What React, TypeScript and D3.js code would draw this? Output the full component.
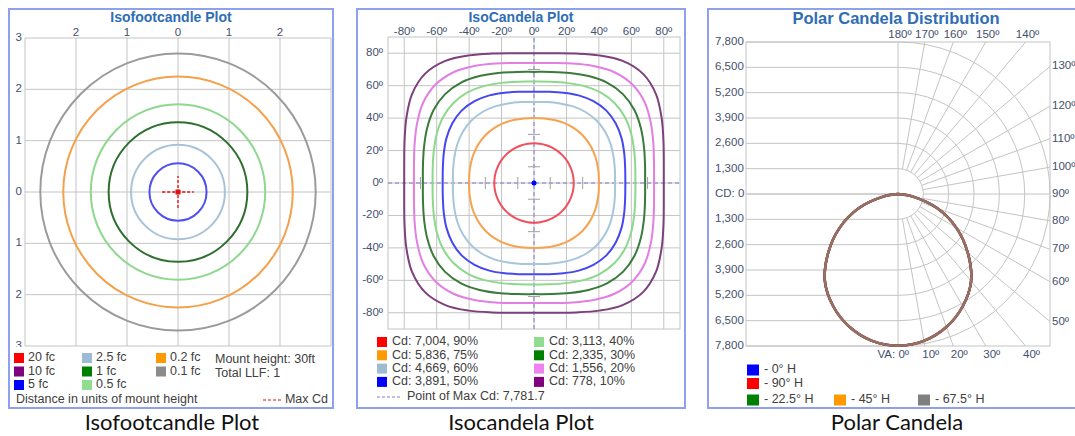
import { useEffect, useRef } from 'react';
import * as d3 from 'd3';

const W = 1075;
const H = 436;

// Isofootcandle plot
const fcTicks = [-3, -2, -1, 0, 1, 2, 3];
const fcContourRadii = [0.56, 0.92, 1.36, 1.71, 2.25, 2.7];
const fcContourColors = ['#5050ee', '#a8c3d7', '#2e6e2e', '#8ed88e', '#f5a04c', '#9b9b9b'];
const fcLegendLabels = ['20 fc', '10 fc', '5 fc', '2.5 fc', '1 fc', '0.5 fc', '0.2 fc', '0.1 fc'];
const fcLegendColors = ['#ff0000', '#800080', '#0000ff', '#9dbbd2', '#008000', '#90dc90', '#ff9900', '#8c8c8c'];
const fcNotes = ['Mount height: 30ft', 'Total LLF: 1'];

// IsoCandela plot
const icTicks = [-80, -60, -40, -20, 0, 20, 40, 60, 80];
const icMinorTicks = [-70, -50, -30, -10, 10, 30, 50, 70];
const icSampleAngles = [0, 9, 18, 27, 36, 45];
// contour radius (deg) read every 9 deg from the axes, same in every octant
const icContours = [
  [24.5, 24.5, 24.5, 24.5, 24.5, 24.5],
  [40, 40.3, 40.8, 41.4, 41.8, 42],
  [50, 50.5, 51.6, 53, 54.1, 54.5],
  [56.3, 56.9, 58.5, 60.6, 62.3, 63.1],
  [62.5, 63.2, 64.9, 67.2, 69.2, 70],
  [68.5, 69.3, 71.3, 74, 76.5, 77.5],
  [74, 74.9, 77.4, 80.9, 84.4, 85.8],
  [80, 81, 83.9, 88.3, 93, 95.1],
];
const icLabels = [
  'Cd: 7,004, 90%', 'Cd: 5,836, 75%', 'Cd: 4,669, 60%', 'Cd: 3,891, 50%',
  'Cd: 3,113, 40%', 'Cd: 2,335, 30%', 'Cd: 1,556, 20%', 'Cd: 778, 10%',
];
const icLineColors = ['#f0505c', '#f6a24e', '#a6c6da', '#4646f2', '#8cd88c', '#3a7a3a', '#e27fe2', '#7d3f7d'];
const icLegendColors = ['#ff0000', '#ff9900', '#9dbbd2', '#0000ff', '#90dc90', '#008000', '#ee82ee', '#800080'];
const icMaxLabel = 'Point of Max Cd: 7,781.7';

// Polar candela distribution
const pcRadialTicks = [1300, 2600, 3900, 5200, 6500, 7800];
const pcAngleTicks = [0, 10, 20, 30, 40, 50, 60, 70, 80, 90, 100, 110, 120, 130, 140, 150, 160, 170, 180];
const pcVA = [0, 10, 20, 30, 40, 50, 60, 70, 80, 90];
const pcCandela = [7782, 7650, 7260, 6650, 5836, 4669, 3450, 2150, 778, 0];
const pcSeries = ['- 0° H', '- 90° H', '- 22.5° H', '- 45° H', '- 67.5° H'];
const pcColors = ['#0000ff', '#ff0000', '#008000', '#ff9900', '#808080'];

const UI = "'Liberation Sans', Arial, sans-serif";
const CAP = "Lato, 'Open Sans', sans-serif";
const TITLE = '#2f6db5';
const TICK = '#44506e';
const TXT = '#404040';
const GRID = '#c4c4c4';
const BORDER = '#8fa1ea';

export default function App() {
  const svgRef = useRef<SVGSVGElement>(null);

  useEffect(() => {
    if (!svgRef.current) return;
    const svg = d3.select(svgRef.current);
    svg.selectAll('*').remove();
    svg.append('rect').attr('width', W).attr('height', H).attr('fill', '#fff');

    const panel = (x: number, w: number, title: string, tx: number, ty: number, size: number) => {
      const g = svg.append('g');
      g.append('rect')
        .attr('x', x).attr('y', 9).attr('width', w).attr('height', 399)
        .attr('fill', '#fff').attr('stroke', BORDER).attr('stroke-width', 2);
      g.append('text')
        .attr('x', tx).attr('y', ty)
        .attr('text-anchor', 'middle')
        .style('font-family', UI).style('font-size', `${size}px`).style('font-weight', 'bold')
        .style('fill', TITLE)
        .text(title);
      return g;
    };

    // ---------- Isofootcandle ----------
    const g1 = panel(9, 324, 'Isofootcandle Plot', 171, 22, 14);
    const fx = d3.scaleLinear().domain([-3, 3]).range([25, 331]);
    const fy = d3.scaleLinear().domain([-3, 3]).range([346, 38]);

    g1.selectAll('.gx').data(fcTicks).enter().append('line')
      .attr('x1', (d) => fx(d)).attr('x2', (d) => fx(d))
      .attr('y1', fy(3)).attr('y2', fy(-3))
      .attr('stroke', GRID);
    g1.selectAll('.gy').data(fcTicks).enter().append('line')
      .attr('y1', (d) => fy(d)).attr('y2', (d) => fy(d))
      .attr('x1', fx(-3)).attr('x2', fx(3))
      .attr('stroke', GRID);

    g1.selectAll('.tx').data(fcTicks.filter((t) => Math.abs(t) < 3)).enter().append('text')
      .attr('x', (d) => fx(d)).attr('y', 36)
      .attr('text-anchor', 'middle')
      .style('font-family', UI).style('font-size', '11.5px').style('fill', TICK)
      .text((d) => Math.abs(d));
    g1.selectAll('.ty').data(fcTicks).enter().append('text')
      .attr('x', 22).attr('y', (d) => fy(d))
      .attr('text-anchor', 'end').attr('dominant-baseline', 'middle')
      .style('font-family', UI).style('font-size', '11.5px').style('fill', TICK)
      .text((d) => Math.abs(d));

    g1.selectAll('.iso').data(fcContourRadii).enter().append('ellipse')
      .attr('cx', fx(0)).attr('cy', fy(0))
      .attr('rx', (d) => fx(d) - fx(0)).attr('ry', (d) => fy(0) - fy(d))
      .attr('fill', 'none')
      .attr('stroke', (_, i) => fcContourColors[i])
      .attr('stroke-width', 2);

    // max cd marker
    g1.append('line').attr('x1', fx(-0.31)).attr('x2', fx(0.31)).attr('y1', fy(0)).attr('y2', fy(0))
      .attr('stroke', '#e01010').attr('stroke-width', 1.3).attr('stroke-dasharray', '3,2');
    g1.append('line').attr('y1', fy(-0.31)).attr('y2', fy(0.31)).attr('x1', fx(0)).attr('x2', fx(0))
      .attr('stroke', '#e01010').attr('stroke-width', 1.3).attr('stroke-dasharray', '3,2');
    g1.append('rect').attr('x', fx(0) - 2.5).attr('y', fy(0) - 2.5).attr('width', 5).attr('height', 5)
      .attr('fill', '#e01010');

    // cover lower half of the bottom "3"
    g1.append('rect').attr('x', 11).attr('y', 347).attr('width', 320).attr('height', 60).attr('fill', '#fff');

    const fcCols = [14, 82, 156];
    const fcRows = [358, 371.5, 385];
    fcLegendLabels.forEach((lab, i) => {
      const c = Math.floor(i / 3);
      const r = i % 3;
      g1.append('rect').attr('x', fcCols[c]).attr('y', fcRows[r] - 5).attr('width', 10).attr('height', 10)
        .attr('fill', fcLegendColors[i]);
      g1.append('text').attr('x', fcCols[c] + 14).attr('y', fcRows[r])
        .attr('dominant-baseline', 'middle')
        .style('font-family', UI).style('font-size', '12.5px').style('fill', TXT)
        .text(lab);
    });
    fcNotes.forEach((t, i) => {
      g1.append('text').attr('x', 215).attr('y', 360 + i * 13.5)
        .attr('dominant-baseline', 'middle')
        .style('font-family', UI).style('font-size', '12.5px').style('fill', TXT)
        .text(t);
    });
    g1.append('text').attr('x', 16).attr('y', 400)
      .attr('dominant-baseline', 'middle')
      .style('font-family', UI).style('font-size', '12.5px').style('fill', TXT)
      .text('Distance in units of mount height');
    g1.append('line').attr('x1', 263).attr('x2', 281).attr('y1', 400).attr('y2', 400)
      .attr('stroke', '#e01010').attr('stroke-dasharray', '3,2');
    g1.append('text').attr('x', 328).attr('y', 400)
      .attr('text-anchor', 'end').attr('dominant-baseline', 'middle')
      .style('font-family', UI).style('font-size', '12.5px').style('fill', TXT)
      .text('Max Cd');

    // ---------- IsoCandela ----------
    const g2 = panel(357, 328, 'IsoCandela Plot', 521, 22, 14);
    const ix = d3.scaleLinear().domain([-90, 90]).range([388, 680]);
    const iy = d3.scaleLinear().domain([-90, 90]).range([329, 37]);

    g2.append('rect').attr('x', ix(-90)).attr('y', iy(90))
      .attr('width', ix(90) - ix(-90)).attr('height', iy(-90) - iy(90))
      .attr('fill', 'none').attr('stroke', GRID);
    g2.selectAll('.gx').data(icTicks).enter().append('line')
      .attr('x1', (d) => ix(d)).attr('x2', (d) => ix(d))
      .attr('y1', iy(90)).attr('y2', iy(-90)).attr('stroke', GRID);
    g2.selectAll('.gy').data(icTicks).enter().append('line')
      .attr('y1', (d) => iy(d)).attr('y2', (d) => iy(d))
      .attr('x1', ix(-90)).attr('x2', ix(90)).attr('stroke', GRID);

    g2.selectAll('.tx').data(icTicks).enter().append('text')
      .attr('x', (d) => ix(d)).attr('y', 35)
      .attr('text-anchor', 'middle')
      .style('font-family', UI).style('font-size', '11.5px').style('fill', TICK)
      .text((d) => `${d}º`);
    g2.selectAll('.ty').data(icTicks).enter().append('text')
      .attr('x', 383).attr('y', (d) => iy(d))
      .attr('text-anchor', 'end').attr('dominant-baseline', 'middle')
      .style('font-family', UI).style('font-size', '11.5px').style('fill', TICK)
      .text((d) => `${d}º`);

    // axes through max cd
    g2.append('line').attr('x1', ix(-90)).attr('x2', ix(90)).attr('y1', iy(0)).attr('y2', iy(0))
      .attr('stroke', '#7b7bd8').attr('stroke-dasharray', '4,3');
    g2.append('line').attr('y1', iy(-90)).attr('y2', iy(90)).attr('x1', ix(0)).attr('x2', ix(0))
      .attr('stroke', '#7b7bd8').attr('stroke-dasharray', '4,3');
    g2.selectAll('.mtx').data(icMinorTicks).enter().append('line')
      .attr('x1', (d) => ix(d)).attr('x2', (d) => ix(d))
      .attr('y1', iy(0) - 6).attr('y2', iy(0) + 6).attr('stroke', '#a0a0a0');
    g2.selectAll('.mty').data(icMinorTicks).enter().append('line')
      .attr('y1', (d) => iy(d)).attr('y2', (d) => iy(d))
      .attr('x1', ix(0) - 6).attr('x2', ix(0) + 6).attr('stroke', '#a0a0a0');

    const octant = (shape: number[], phi: number) => {
      const m = phi % 90;
      const a = m <= 45 ? m : 90 - m;
      return shape[icSampleAngles.indexOf(a)];
    };
    const phis = d3.range(0, 360, 9);
    const contourLine = d3.line<[number, number]>()
      .x((d) => ix(d[0])).y((d) => iy(d[1]))
      .curve(d3.curveCatmullRomClosed.alpha(0.5));
    icContours.forEach((shape, i) => {
      const pts = phis.map((p) => {
        const r = octant(shape, p);
        const t = (p * Math.PI) / 180;
        return [r * Math.cos(t), r * Math.sin(t)] as [number, number];
      });
      g2.append('path').attr('d', contourLine(pts))
        .attr('fill', 'none').attr('stroke', icLineColors[i]).attr('stroke-width', 2);
    });
    g2.append('circle').attr('cx', ix(0)).attr('cy', iy(0)).attr('r', 2.5).attr('fill', '#0000ff');

    const icCols = [377, 534];
    icLabels.forEach((lab, i) => {
      const c = Math.floor(i / 4);
      const y = 342 + (i % 4) * 13.3;
      g2.append('rect').attr('x', icCols[c]).attr('y', y - 5).attr('width', 10).attr('height', 10)
        .attr('fill', icLegendColors[i]);
      g2.append('text').attr('x', icCols[c] + 15).attr('y', y)
        .attr('dominant-baseline', 'middle')
        .style('font-family', UI).style('font-size', '12.5px').style('fill', TXT)
        .text(lab);
    });
    g2.append('line').attr('x1', 377).attr('x2', 402).attr('y1', 397).attr('y2', 397)
      .attr('stroke', '#8080e0').attr('stroke-dasharray', '3,2');
    g2.append('text').attr('x', 407).attr('y', 397)
      .attr('dominant-baseline', 'middle')
      .style('font-family', UI).style('font-size', '12.5px').style('fill', TXT)
      .text(icMaxLabel);

    // ---------- Polar ----------
    const g3 = panel(708, 380, 'Polar Candela Distribution', 896, 24, 16.5);
    const cx = 898;
    const cy = 194;
    const R = 152;
    const rs = d3.scaleLinear().domain([0, 7800]).range([0, R]);

    g3.append('rect').attr('x', cx - R).attr('y', cy - R).attr('width', 2 * R).attr('height', 2 * R)
      .attr('fill', 'none').attr('stroke', GRID);
    [0, ...pcRadialTicks].forEach((v) => {
      [-1, 1].forEach((s) => {
        g3.append('line').attr('x1', cx - R).attr('x2', cx)
          .attr('y1', cy + s * rs(v)).attr('y2', cy + s * rs(v)).attr('stroke', GRID);
      });
    });
    g3.append('line').attr('x1', cx).attr('x2', cx).attr('y1', cy - R).attr('y2', cy + R).attr('stroke', GRID);
    pcRadialTicks.forEach((v) => {
      const p = d3.path();
      p.moveTo(cx, cy - rs(v));
      p.arc(cx, cy, rs(v), -Math.PI / 2, Math.PI / 2);
      g3.append('path').attr('d', p.toString()).attr('fill', 'none').attr('stroke', GRID);
    });
    const exitOf = (va: number) => {
      const t = (va * Math.PI) / 180;
      const dx = Math.sin(t);
      const dy = Math.cos(t);
      const k = Math.min(Math.abs(dx) > 1e-9 ? R / Math.abs(dx) : Infinity, Math.abs(dy) > 1e-9 ? R / Math.abs(dy) : Infinity);
      return { dx, dy, k };
    };
    pcAngleTicks.filter((a) => a > 0 && a < 180).forEach((va) => {
      const { dx, dy, k } = exitOf(va);
      const r0 = rs(1300);
      g3.append('line')
        .attr('x1', cx + dx * r0).attr('y1', cy + dy * r0)
        .attr('x2', cx + dx * k).attr('y2', cy + dy * k)
        .attr('stroke', GRID);
    });

    // left value labels
    [0, ...pcRadialTicks].forEach((v) => {
      const sides = v === 0 ? [0] : [-1, 1];
      sides.forEach((s) => {
        g3.append('text').attr('x', 715).attr('y', cy + s * rs(v))
          .attr('dominant-baseline', 'middle')
          .style('font-family', UI).style('font-size', '11.5px').style('fill', TICK)
          .text(v === 0 ? 'CD: 0' : d3.format(',')(v));
      });
    });
    // angle labels
    pcAngleTicks.forEach((va) => {
      const { dx, dy, k } = exitOf(va);
      const ex = cx + dx * k;
      const ey = cy + dy * k;
      const t = g3.append('text')
        .style('font-family', UI).style('font-size', '11.5px').style('fill', TICK);
      if (va >= 140) {
        t.attr('x', ex + 2).attr('y', 38).attr('text-anchor', 'middle').text(`${va}º`);
      } else if (va >= 50) {
        t.attr('x', 1052).attr('y', ey).attr('dominant-baseline', 'middle').text(`${va}º`);
      } else if (va > 0) {
        t.attr('x', ex + 6).attr('y', 358).attr('text-anchor', 'middle').text(`${va}º`);
      } else {
        t.attr('x', ex + 11).attr('y', 358).attr('text-anchor', 'end').text(`VA: ${va}º`);
      }
    });

    const curvePts: [number, number][] = [
      ...pcVA.map((va, i) => [Math.PI + (va * Math.PI) / 180, pcCandela[i]] as [number, number]).reverse(),
      ...pcVA.slice(1).map((va, i) => [Math.PI - (va * Math.PI) / 180, pcCandela[i + 1]] as [number, number]),
    ];
    const radial = d3.lineRadial<[number, number]>()
      .angle((d) => d[0]).radius((d) => rs(d[1]))
      .curve(d3.curveCatmullRom);
    const opac = [1, 1, 0.3, 0.3, 0.75];
    pcSeries.forEach((_, i) => {
      g3.append('path').attr('transform', `translate(${cx},${cy})`)
        .attr('d', radial(curvePts))
        .attr('fill', 'none').attr('stroke', pcColors[i])
        .attr('stroke-opacity', opac[i]).attr('stroke-width', 2.5);
    });

    const pcLegendPos = [[747, 370], [747, 383.5], [747, 400], [834, 400], [918, 400]];
    pcSeries.forEach((lab, i) => {
      const [lx, ly] = pcLegendPos[i];
      g3.append('rect').attr('x', lx).attr('y', ly - 5.5).attr('width', 12).attr('height', 11)
        .attr('fill', pcColors[i]);
      g3.append('text').attr('x', lx + 17).attr('y', ly)
        .attr('dominant-baseline', 'middle')
        .style('font-family', UI).style('font-size', '12.5px').style('fill', TXT)
        .text(lab);
    });

    // captions
    [['Isofootcandle Plot', 172], ['Isocandela Plot', 521], ['Polar Candela', 897]].forEach(([t, x]) => {
      svg.append('text').attr('x', x as number).attr('y', 430)
        .attr('text-anchor', 'middle')
        .style('font-family', CAP).style('font-size', '22px').style('fill', '#111')
        .text(t as string);
    });
  }, []);

  return (
    <div style={{ position: 'absolute', left: 0, top: 0 }}>
      <svg ref={svgRef} width={W} height={H} style={{ display: 'block' }} />
    </div>
  );
}
